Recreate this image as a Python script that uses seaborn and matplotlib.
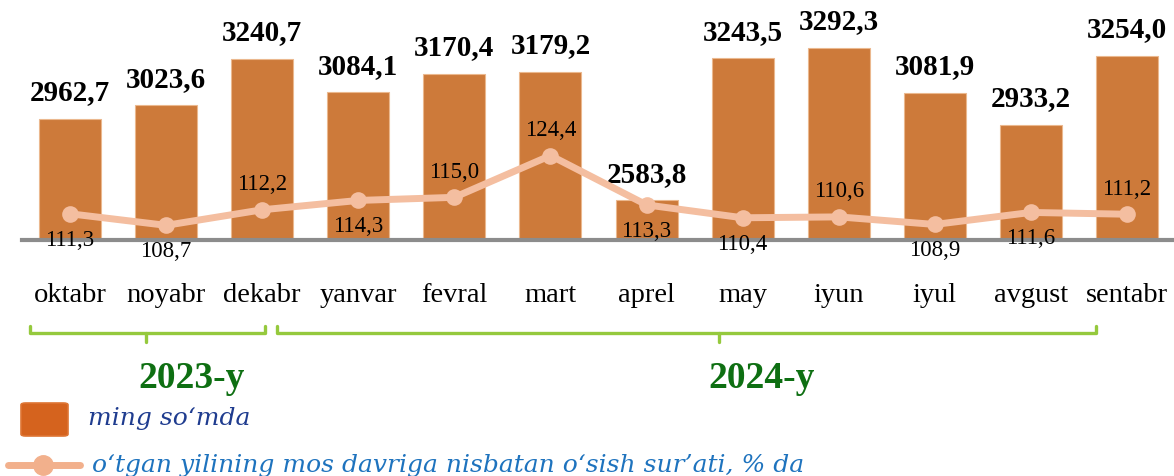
import numpy as np
import pandas as pd
import matplotlib
matplotlib.use("Agg")
import matplotlib.pyplot as plt
import matplotlib.transforms as mtransforms
from matplotlib.patches import FancyBboxPatch
from matplotlib.lines import Line2D
import seaborn as sns

# ---------------- data ----------------
months = ["oktabr", "noyabr", "dekabr", "yanvar", "fevral", "mart",
          "aprel", "may", "iyun", "iyul", "avgust", "sentabr"]
amount = [2962.7, 3023.6, 3240.7, 3084.1, 3170.4, 3179.2,
          2583.8, 3243.5, 3292.3, 3081.9, 2933.2, 3254.0]
growth = [111.3, 108.7, 112.2, 114.3, 115.0, 124.4,
          113.3, 110.4, 110.6, 108.9, 111.6, 111.2]
years = ["2023-y", "2024-y"]
legend_labels = ["ming so\u2018mda",
                 "o\u2018tgan yilining mos davriga nisbatan o\u2018sish sur\u2019ati, % da"]

# ---------------- style ----------------
label_side = ["below", "below", "above", "below", "above", "above",
              "below", "below", "above", "below", "below", "above"]
BAR_C = "#CD7A3A"
LINE_C = "#F4BEA0"
GREEN_BR = "#95C93D"
GREEN_TX = "#0E6F12"

sns.set_theme(style="white")
plt.rcParams["font.family"] = ["Liberation Serif", "DejaVu Serif"]

df = pd.DataFrame({"month": months, "amount": amount, "growth": growth})

fig = plt.figure(figsize=(11.74, 4.76), dpi=100)
ax = fig.add_axes([22 / 1174, 236 / 476, 1153 / 1174, 220 / 476])

sns.barplot(data=df, x="month", y="amount", color=BAR_C, saturation=1,
            width=0.645, edgecolor="#EBB88E", linewidth=0.8, ax=ax)
ax.set_ylim(2400, 3420)
ax.set_xlim(-0.5, len(months) - 0.5)

labels_amt = [f"{v:.1f}".replace(".", ",") for v in amount]
ax.bar_label(ax.containers[0], labels=labels_amt, padding=9,
             fontsize=21, fontweight="bold", color="black")

for s in ["top", "right", "left"]:
    ax.spines[s].set_visible(False)
ax.spines["bottom"].set_color("#8C8C8C")
ax.spines["bottom"].set_linewidth(3)
ax.set_yticks([])
ax.set_xlabel("")
ax.set_ylabel("")
ax.tick_params(axis="x", length=0, pad=31, labelsize=20.5, colors="black")

# line on secondary axis
ax2 = ax.twinx()
x_pos = np.arange(len(months))
sns.lineplot(x=x_pos, y=growth, ax=ax2, color=LINE_C, linewidth=5,
             marker="o", markersize=12, markeredgewidth=0, zorder=3)
ax2.set_ylim(105.4, 154.9)
ax2.set_xlim(-0.5, len(months) - 0.5)
ax2.set_yticks([])
ax2.set_ylabel("")
for s in ["top", "right", "left", "bottom"]:
    ax2.spines[s].set_visible(False)

for i, (g, side) in enumerate(zip(growth, label_side)):
    off = 18 if side == "above" else -19
    ax2.annotate(f"{g:.1f}".replace(".", ","), (x_pos[i], g),
                 xytext=(0, off), textcoords="offset points",
                 ha="center", va="center", fontsize=16.5, color="black",
                 zorder=5)

# year brackets
trans = mtransforms.blended_transform_factory(ax.transData, fig.transFigure)
brackets = [(-0.416, 2.03, 0.79, 1.26), (2.154, 10.68, 6.75, 7.2)]
y_h = 1 - 333 / 476
y_up = 1 - 326 / 476
y_dn = 1 - 342 / 476
for (x0, x1, xt, xtxt), yr in zip(brackets, years):
    ax.plot([x0, x0, x1, x1], [y_up, y_h, y_h, y_up], transform=trans,
            color=GREEN_BR, lw=2.4, clip_on=False, solid_joinstyle="round")
    ax.plot([xt, xt], [y_h, y_dn], transform=trans, color=GREEN_BR,
            lw=2.4, clip_on=False)
    ax.text(xtxt, 1 - 378 / 476, yr, transform=trans, ha="center",
            va="center", fontsize=27, fontweight="bold", color=GREEN_TX)

# legend (drawn manually in figure coordinates)
rect = FancyBboxPatch((21 / 1174, 1 - 436 / 476), 47 / 1174, 33 / 476,
                      boxstyle="round,pad=0,rounding_size=0.004",
                      transform=fig.transFigure, facecolor="#D5631E",
                      edgecolor="#DE7534", linewidth=1.2)
fig.add_artist(rect)
fig.text(88 / 1174, 1 - 418 / 476, legend_labels[0], fontsize=18,
         style="italic", color="#1F3C8F", va="center", ha="left",
         family="DejaVu Serif")
ly = 1 - 465 / 476
fig.add_artist(Line2D([8 / 1174, 80 / 1174], [ly, ly], transform=fig.transFigure,
                      color="#F2B08C", lw=5, solid_capstyle="round"))
fig.add_artist(Line2D([43 / 1174], [ly], transform=fig.transFigure,
                      color="#F2B08C", marker="o", markersize=14, lw=0))
fig.text(92 / 1174, ly, legend_labels[1], fontsize=18, style="italic",
         color="#1E73BE", va="center", ha="left", family="DejaVu Serif")

fig.savefig("out.png", dpi=100)
